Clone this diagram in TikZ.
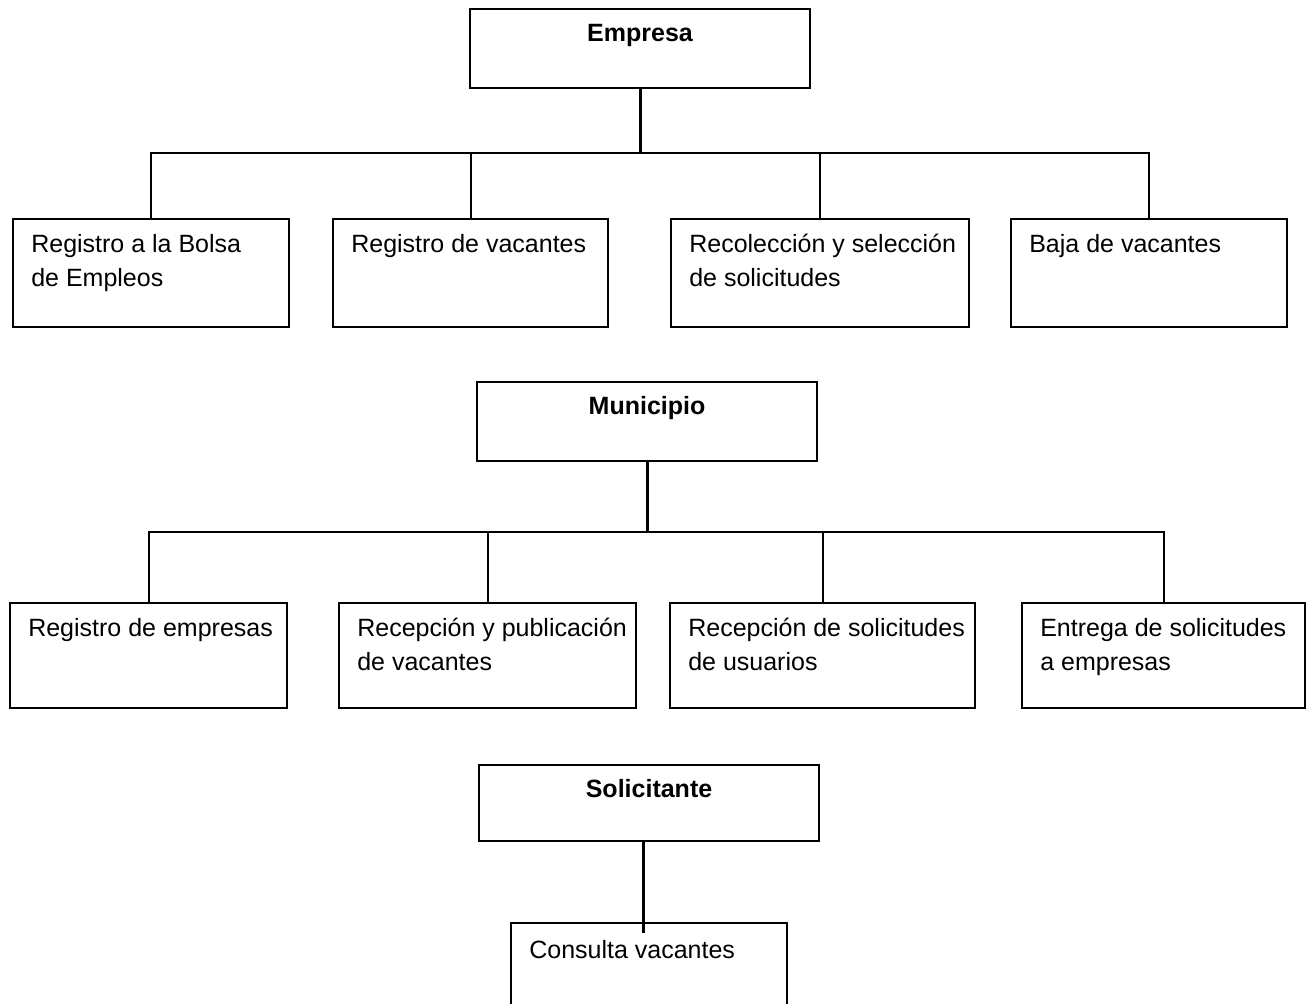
\documentclass[tikz,border=0pt]{standalone}
\usepackage{fontspec}
\setmainfont{Liberation Sans}
\begin{document}
\begin{tikzpicture}
  [x=0.5pt, y=-0.5pt,
   caja/.style={draw, line width=1.1pt, inner sep=0pt},
   jefe/.style={caja, minimum width=170pt, minimum height=39.5pt},
   tarea/.style={caja, minimum height=54pt},
   tareados/.style={caja, minimum height=52.5pt},
   titulo/.style={anchor=base, inner sep=0pt, font=\fontsize{12.5}{17}\selectfont\bfseries},
   texto/.style={anchor=north west, inner sep=0pt, align=left, font=\fontsize{12.5}{17}\selectfont},
   tronco/.style={line width=1.5pt},
   rama/.style={line width=1pt}]
  \useasboundingbox (0,0) rectangle (1310,1004);

  \node[jefe] (emp) at (640,48.5) {};
  \node[titulo] (empt) at ([yshift=-17pt]emp.north) {Empresa};
  \node[tarea, minimum width=138pt] (regbolsa) at (151,273) {};
  \node[tarea, minimum width=137.5pt] (regvac) at (470.5,273) {};
  \node[tarea, minimum width=149pt] (recol) at (820,273) {};
  \node[tarea, minimum width=138pt] (baja) at (1149,273) {};
  \node[texto] (regbolsat) at ([xshift=9.5pt,yshift=-8pt]regbolsa.north west) {Registro a la Bolsa\\de Empleos};
  \node[texto] (regvact) at ([xshift=9.5pt,yshift=-8pt]regvac.north west) {Registro de vacantes};
  \node[texto] (recolt) at ([xshift=9.5pt,yshift=-8pt]recol.north west) {Recolección y selección\\de solicitudes};
  \node[texto] (bajat) at ([xshift=9.5pt,yshift=-8pt]baja.north west) {Baja de vacantes};
  \coordinate (e0) at (640,153);
  \draw[tronco] (emp.south) -- (e0);
  \draw[rama] (regbolsa.north) |- (e0) -| (baja.north);
  \draw[rama] (regvac.north) -- (regvac.north |- e0);
  \draw[rama] (recol.north) -- (recol.north |- e0);

  \node[jefe] (mun) at (647,421.5) {};
  \node[titulo] (munt) at ([yshift=-17pt]mun.north) {Municipio};
  \node[tareados, minimum width=138.5pt] (regemp) at (148.5,655.5) {};
  \node[tareados, minimum width=148.5pt] (recpub) at (487.5,655.5) {};
  \node[tareados, minimum width=152.5pt] (recsol) at (822.5,655.5) {};
  \node[tareados, minimum width=141.5pt] (entrega) at (1163.5,655.5) {};
  \node[texto] (regempt) at ([xshift=9.5pt,yshift=-8pt]regemp.north west) {Registro de empresas};
  \node[texto] (recpubt) at ([xshift=9.5pt,yshift=-8pt]recpub.north west) {Recepción y publicación\\de vacantes};
  \node[texto] (recsolt) at ([xshift=9.5pt,yshift=-8pt]recsol.north west) {Recepción de solicitudes\\de usuarios};
  \node[texto] (entregat) at ([xshift=9.5pt,yshift=-8pt]entrega.north west) {Entrega de solicitudes\\a empresas};
  \coordinate (m0) at (647,532);
  \draw[tronco] (mun.south) -- (m0);
  \draw[rama] (regemp.north) |- (m0) -| (entrega.north);
  \draw[rama] (recpub.north) -- (recpub.north |- m0);
  \draw[rama] (recsol.north) -- (recsol.north |- m0);

  \node[jefe, minimum height=38pt] (sol) at (649,803) {};
  \node[titulo] (solt) at ([yshift=-17pt]sol.north) {Solicitante};
  \node[caja, minimum width=138pt, minimum height=55pt] (consulta) at (649,978) {};
  \node[texto] (consultat) at ([xshift=9.5pt,yshift=-9pt]consulta.north west) {Consulta vacantes};
  \draw[tronco] ([xshift=-3pt]sol.south) -- ([xshift=-3pt,yshift=-5.5pt]consulta.north);
\end{tikzpicture}
\end{document}
